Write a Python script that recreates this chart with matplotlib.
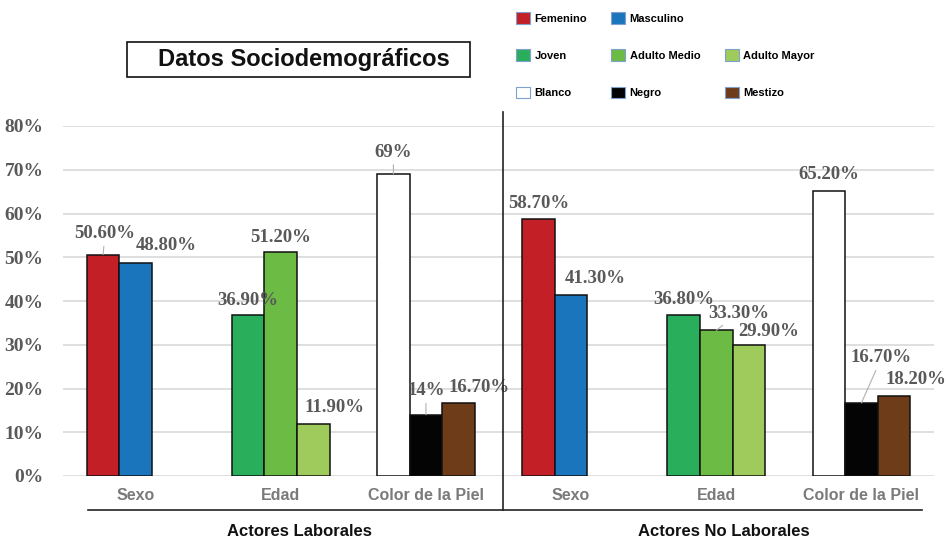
import matplotlib.pyplot as plt
from matplotlib.patches import Rectangle
from matplotlib.lines import Line2D

# categories and groups
categories = ['Sexo', 'Edad', 'Color de la Piel', 'Sexo', 'Edad', 'Color de la Piel']
groups = ['Actores Laborales', 'Actores No Laborales']

# series labels per category type
sexo_series = ['Femenino', 'Masculino']
edad_series = ['Joven', 'Adulto Medio', 'Adulto Mayor']
piel_series = ['Blanco', 'Negro', 'Mestizo']

# values (%)
sexo_laborales = [50.6, 48.8]
edad_laborales = [36.9, 51.2, 11.9]
piel_laborales = [69.0, 14.0, 16.7]
sexo_no_laborales = [58.7, 41.3]
edad_no_laborales = [36.8, 33.3, 29.9]
piel_no_laborales = [65.2, 16.7, 18.2]

colors = {
    'Femenino': '#C21F27', 'Masculino': '#1B75BC',
    'Joven': '#29AF5B', 'Adulto Medio': '#6CBB44', 'Adulto Mayor': '#9ECB5C',
    'Blanco': '#FFFFFF', 'Negro': '#040404', 'Mestizo': '#6E3C18',
}

# label offsets (pixels) from bar top, and which labels get a leader line
label_offsets = [
    [(2, 21), (31, 17)],
    [(0, 14), (0, 15), (21, 16)],
    [(0, 22), (0, 24), (21, 15)],
    [(0, 16), (24, 17)],
    [(0, 15), (22, 17), (20, 14)],
    [(0, 16), (20, 45), (22, 17)],
]
leaders = [[True, False], [False, False, False], [True, True, False],
           [False, False], [False, True, False], [False, True, False]]

plt.rcParams['font.family'] = ['Liberation Sans', 'DejaVu Sans']

fig = plt.figure(figsize=(9.46, 5.38), dpi=100)
ax = fig.add_axes([63 / 946, 1 - 476 / 538, (934 - 63) / 946, (476 - 126) / 538])

width = 0.224
blocks = [
    (sexo_series, sexo_laborales), (edad_series, edad_laborales), (piel_series, piel_laborales),
    (sexo_series, sexo_no_laborales), (edad_series, edad_no_laborales),
    (piel_series, piel_no_laborales),
]

handles = {}
for i, (names, vals) in enumerate(blocks):
    for j, (name, v) in enumerate(zip(names, vals)):
        x = i + (j - 1) * width
        bars = ax.bar(x, v / 100, width=width, color=colors[name], edgecolor='#111111',
                      linewidth=1.1, zorder=3, label=name)
        handles.setdefault(name, bars)
        txt = f'{v:.0f}%' if v == int(v) else f'{v:.2f}%'
        dx, dy = label_offsets[i][j]
        arrow = dict(arrowstyle='-', color='#b0b0b0', lw=0.8, shrinkA=1, shrinkB=0) if leaders[i][j] else None
        ax.annotate(txt, xy=(x, v / 100), xytext=(dx, dy), textcoords='offset pixels',
                    ha='center', va='center', fontsize=13.5, fontweight='bold',
                    family='Liberation Serif', color='#595959', arrowprops=arrow, zorder=4)

ax.set_xlim(-0.5, 5.5)
ax.set_ylim(0, 0.8)
ax.set_yticks([i / 10 for i in range(9)])
ax.set_yticklabels([f'{i * 10}%' for i in range(9)], family='Liberation Serif',
                   fontweight='bold', fontsize=14, color='#595959')
ax.set_xticks(range(6))
ax.set_xticklabels(categories, fontsize=11.5, fontweight='bold', color='#7a7a7a')
ax.tick_params(axis='both', length=0)
ax.tick_params(axis='y', pad=14)
ax.tick_params(axis='x', pad=9)
ax.grid(axis='y', color='#d9d9d9', linewidth=1.2, zorder=0)
for s in ax.spines.values():
    s.set_visible(False)

# group separators
fig.add_artist(Line2D([88 / 946, 922 / 946], [1 - 510 / 538] * 2, color='#222222', lw=1.2))
fig.add_artist(Line2D([503 / 946] * 2, [1 - 112 / 538, 1 - 510 / 538], color='#222222', lw=1.2))
fig.text(299 / 946, 1 - 532 / 538, groups[0], ha='center', va='center',
         fontsize=12, fontweight='bold', color='#111111')
fig.text(724 / 946, 1 - 532 / 538, groups[1], ha='center', va='center',
         fontsize=12, fontweight='bold', color='#111111')

# title box
fig.add_artist(Rectangle((127 / 946, 1 - 77 / 538), 343 / 946, 35 / 538,
                         transform=fig.transFigure, fill=False, edgecolor='#111111', lw=1.2))
fig.text(304 / 946, 1 - 59.5 / 538, 'Datos Sociodemográficos', ha='center', va='center',
         fontsize=17, fontweight='bold', color='#111111')

# legend
blank = Rectangle((0, 0), 1, 1, fill=False, edgecolor='none')
order = ['Femenino', 'Joven', 'Blanco', 'Masculino', 'Adulto Medio', 'Negro', None,
         'Adulto Mayor', 'Mestizo']
leg_handles = [handles[n] if n else blank for n in order]
leg_labels = [n if n else '' for n in order]
leg = fig.legend(leg_handles, leg_labels, ncol=3, loc='upper left',
                 bbox_to_anchor=(506 / 946, 1 - 2 / 538), frameon=False,
                 prop=dict(size=8, weight='bold'), handlelength=1.25, handleheight=1.25,
                 handletextpad=0.4, columnspacing=2.2, labelspacing=2.3)
for h in leg.legend_handles:
    h.set_edgecolor('#7f9fcf')
    h.set_linewidth(0.8)
leg.legend_handles[6].set_edgecolor('none')

fig.savefig('out.png', dpi=100)
